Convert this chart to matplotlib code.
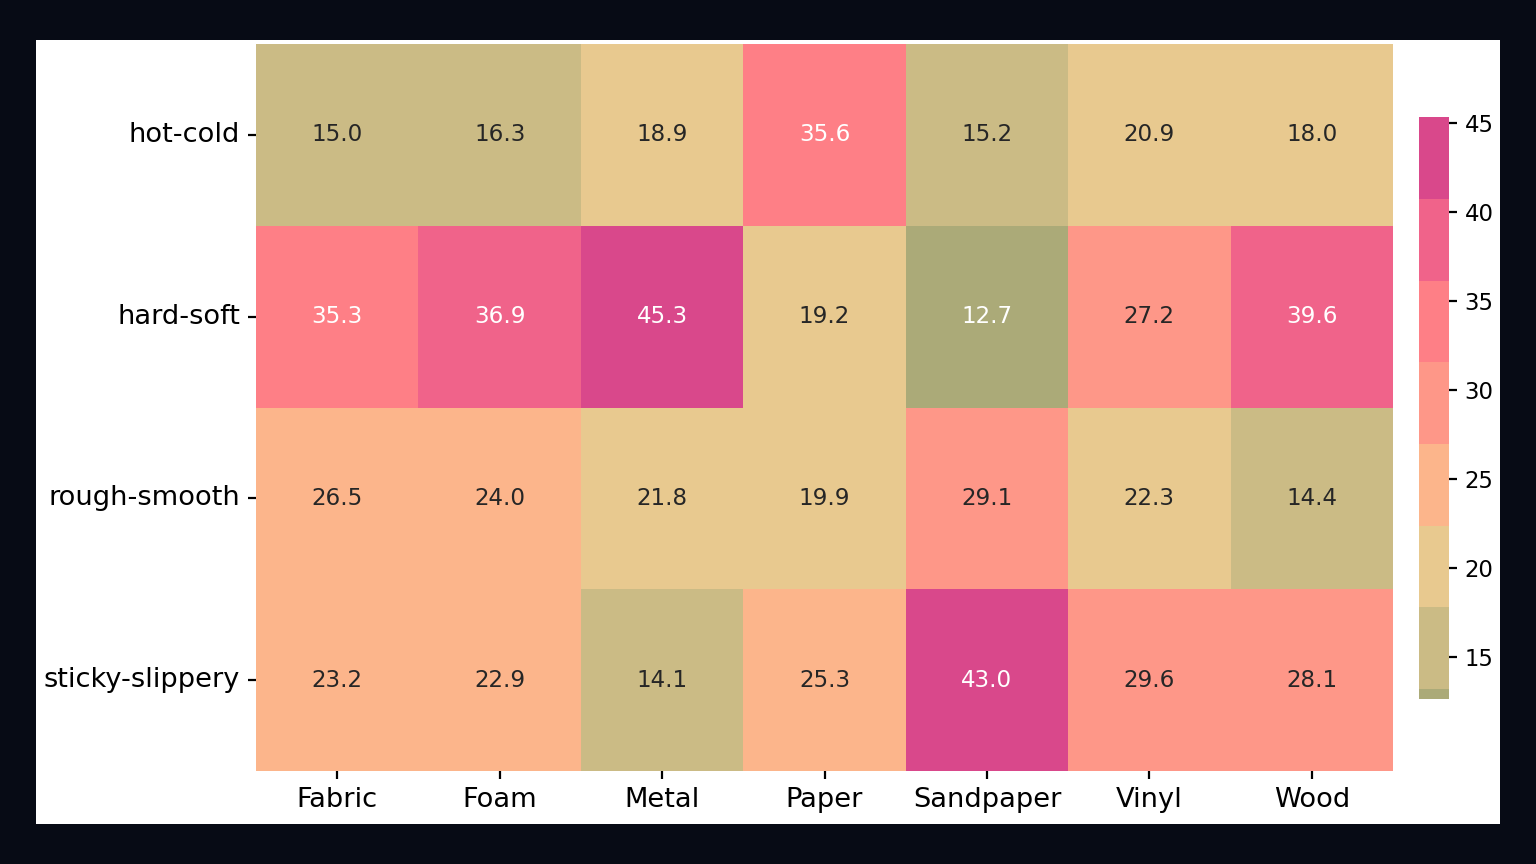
import matplotlib
matplotlib.use("Agg")
import matplotlib.pyplot as plt
from matplotlib.colors import ListedColormap, BoundaryNorm
from matplotlib.patches import Rectangle
from matplotlib.ticker import NullLocator
import pandas as pd
import seaborn as sns

# Data
dimensions = ["hot-cold", "hard-soft", "rough-smooth", "sticky-slippery"]
materials = ["Fabric", "Foam", "Metal", "Paper", "Sandpaper", "Vinyl", "Wood"]
hot_cold = [15.0, 16.3, 18.9, 35.6, 15.2, 20.9, 18.0]
hard_soft = [35.3, 36.9, 45.3, 19.2, 12.7, 27.2, 39.6]
rough_smooth = [26.5, 24.0, 21.8, 19.9, 29.1, 22.3, 14.4]
sticky_slippery = [23.2, 22.9, 14.1, 25.3, 43.0, 29.6, 28.1]

# colour band edges as seen on the colorbar
band_edges = [12.65, 13.22, 17.8, 22.39, 26.97, 31.56, 36.14, 40.73, 45.35]
cbar_ticks = [15, 20, 25, 30, 35, 40, 45]

df = pd.DataFrame([hot_cold, hard_soft, rough_smooth, sticky_slippery],
                  index=dimensions, columns=materials)

palette = ["#abaa78", "#cbbb85", "#e8c98f", "#fcb58b",
           "#fe9788", "#fe7f86", "#f0638a", "#d9488b"]
cmap = ListedColormap(palette)
norm = BoundaryNorm(band_edges, cmap.N)

fig = plt.figure(figsize=(7.68, 4.32), dpi=200)
fig.patch.set_facecolor("#070b15")
# white panel inside the dark frame
fig.patches.append(Rectangle((0.0234, 0.0463), 0.953, 0.9074,
                             transform=fig.transFigure, facecolor="white",
                             edgecolor="none", zorder=-10))

ax = fig.add_axes([0.1667, 0.1076, 0.7402, 0.8414])
cax = fig.add_axes([0.9238, 0.191, 0.0195, 0.6736])

sns.heatmap(df, cmap=cmap, norm=norm, annot=True, fmt=".1f",
            annot_kws={"size": 8.3}, ax=ax, cbar_ax=cax,
            cbar_kws={"spacing": "proportional", "ticks": cbar_ticks})

ax.tick_params(axis="y", rotation=0)
ax.tick_params(labelsize=9.8, length=3, pad=2.8)
cax.yaxis.set_minor_locator(NullLocator())
cax.tick_params(labelsize=8.2, length=2.8, pad=2.8)

fig.savefig("out.png", dpi=200, facecolor=fig.get_facecolor())
